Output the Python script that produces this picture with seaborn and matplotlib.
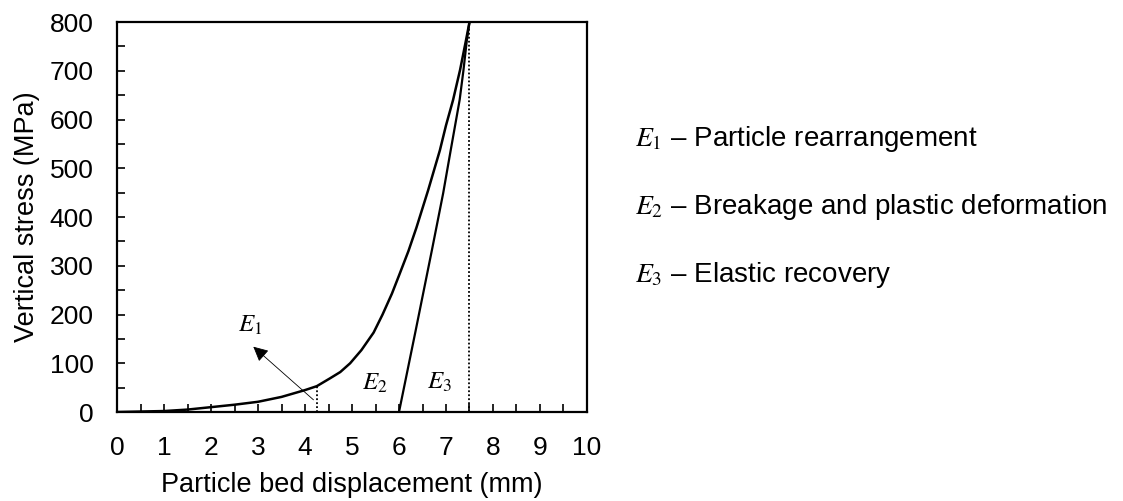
import matplotlib
matplotlib.use('Agg')
import matplotlib.pyplot as plt
import numpy as np
import pandas as pd
import seaborn as sns

# loading curve
load_x = [0, 0.5, 1.0, 1.5, 2.0, 2.5, 3.0, 3.5, 4.0, 4.25, 4.53, 4.75, 4.96, 5.2, 5.46,
          5.65, 5.85, 6.0, 6.2, 6.37, 6.62, 6.87, 7.0, 7.15, 7.3, 7.42, 7.5]
load_y = [0, 1, 2, 5, 10, 15, 21, 31, 45, 53, 69, 82, 100, 127, 163,
          200, 243, 280, 330, 378, 455, 537, 588, 640, 702, 760, 800]

# unloading curve
unload_x = [7.5, 7.44, 7.37, 7.29, 7.1, 6.94, 6.7, 6.35, 6.0]
unload_y = [800, 760, 700, 640, 537, 449, 332, 165, 0]

# dotted markers
e1_x = 4.25
e1_y = 53
peak_x = 7.5
peak_y = 800

legend_lines = ['$E_1$ – Particle rearrangement',
                '$E_2$ – Breakage and plastic deformation',
                '$E_3$ – Elastic recovery']

sns.set_style('ticks')
plt.rcParams['font.family'] = ['Liberation Sans', 'DejaVu Sans']
plt.rcParams['mathtext.fontset'] = 'stix'
plt.rcParams['text.color'] = 'black'
plt.rcParams['axes.labelcolor'] = 'black'
plt.rcParams['xtick.color'] = 'black'
plt.rcParams['ytick.color'] = 'black'

fig = plt.figure(figsize=(11.23, 5.01), dpi=100)
ax = fig.add_axes([0.1042, 0.1776, 0.4185, 0.7784])

df_load = pd.DataFrame({'x': load_x, 'y': load_y})
df_unload = pd.DataFrame({'x': unload_x, 'y': unload_y})
sns.lineplot(data=df_load, x='x', y='y', ax=ax, color='black', lw=1.8, sort=False)
sns.lineplot(data=df_unload, x='x', y='y', ax=ax, color='black', lw=1.6, sort=False)

ax.plot([e1_x, e1_x], [0, e1_y], color='black', lw=1.3, ls=(0, (1, 1.2)))
ax.plot([peak_x, peak_x], [0, peak_y], color='black', lw=1.3, ls=(0, (1, 1.2)))

ax.annotate('', xy=(2.9, 134), xytext=(4.18, 25),
            arrowprops=dict(arrowstyle='-|>,head_length=0.9,head_width=0.45',
                            color='black', lw=0.6, shrinkA=0, shrinkB=0))
ax.text(2.83, 178, '$E_1$', fontsize=18, ha='center', va='center')
ax.text(5.49, 59, '$E_2$', fontsize=18, ha='center', va='center')
ax.text(6.87, 62, '$E_3$', fontsize=18, ha='center', va='center')

ax.set_xlim(0, 10)
ax.set_ylim(0, 800)
ax.set_xticks(np.arange(0, 11, 1))
ax.set_xticks(np.arange(0, 10.5, 0.5), minor=True)
ax.set_yticks(np.arange(0, 900, 100))
ax.set_yticks(np.arange(0, 850, 50), minor=True)
ax.tick_params(which='both', direction='in', length=6, width=1.2, labelsize=19,
               top=False, right=False, color='black', labelcolor='black')
ax.tick_params(axis='x', pad=17)
ax.tick_params(axis='y', pad=17)
for s in ax.spines.values():
    s.set_linewidth(1.6)
    s.set_color('black')

ax.set_xlabel('Particle bed displacement (mm)', fontsize=19.5, labelpad=9)
ax.set_ylabel('Vertical stress (MPa)', fontsize=19.5, labelpad=7)

for i, t in enumerate(legend_lines):
    fig.text(635 / 1123, 1 - (139 + 68 * i) / 501, t, fontsize=20,
             ha='left', va='center')

fig.savefig('out.png', dpi=100)
